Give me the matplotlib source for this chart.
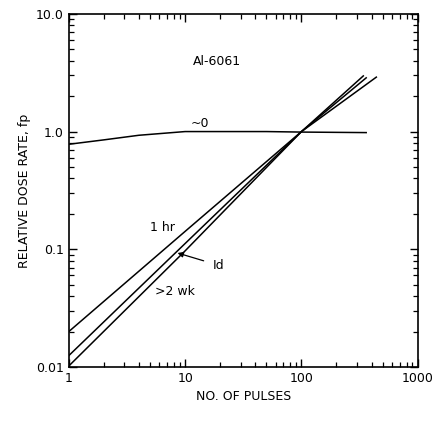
import matplotlib
matplotlib.use("Agg")
import matplotlib.pyplot as plt
from matplotlib.ticker import FixedLocator, LogLocator, NullFormatter

# curva ~0
x_0 = [1, 2, 4, 10, 20, 50, 100, 360]
y_0 = [0.78, 0.85, 0.93, 1.0, 1.0, 1.0, 0.99, 0.98]

# 1 hr
x_1hr = [1, 10, 100, 440]
y_1hr = [0.020, 0.142, 1.0, 2.9]

# 1 d
x_1d = [1, 10, 100, 360]
y_1d = [0.0125, 0.112, 1.0, 2.86]

# >2 wk
x_2wk = [1, 10, 100, 340]
y_2wk = [0.0102, 0.097, 1.0, 2.97]

xticks = [1, 10, 100, 1000]
xticklabels = ["1", "10", "100", "1000"]
yticks = [0.01, 0.1, 1.0, 10.0]
yticklabels = ["0.01", "0.1", "1.0", "10.0"]

fig = plt.figure(figsize=(4.44, 4.26), dpi=100)
ax = fig.add_axes([0.155, 0.1385, 0.786, 0.829])

for x, y in [(x_0, y_0), (x_1hr, y_1hr), (x_1d, y_1d), (x_2wk, y_2wk)]:
    ax.plot(x, y, color="black", linewidth=1.1)

ax.set_xscale("log")
ax.set_yscale("log")
ax.set_xlim(1, 1000)
ax.set_ylim(0.01, 10)

ax.xaxis.set_major_locator(FixedLocator(xticks))
ax.set_xticklabels(xticklabels)
ax.yaxis.set_major_locator(FixedLocator(yticks))
ax.set_yticklabels(yticklabels)
ax.xaxis.set_minor_locator(LogLocator(base=10, subs=range(2, 10)))
ax.yaxis.set_minor_locator(LogLocator(base=10, subs=range(2, 10)))
ax.xaxis.set_minor_formatter(NullFormatter())
ax.yaxis.set_minor_formatter(NullFormatter())

ax.tick_params(which="both", direction="in", top=True, right=True, labelsize=9)
ax.tick_params(which="major", length=6, width=1)
ax.tick_params(which="minor", length=3.5, width=0.9)
for s in ax.spines.values():
    s.set_linewidth(1.2)

ax.set_xlabel("NO. OF PULSES", fontsize=9)
ax.set_ylabel("RELATIVE DOSE RATE, fp", fontsize=9)

ax.text(18.7, 3.9, "Al-6061", fontsize=9, ha="center", va="center")
ax.text(13.4, 1.16, "~0", fontsize=9, ha="center", va="center")
ax.text(6.4, 0.152, "1 hr", fontsize=9, ha="center", va="center")
ax.text(8.1, 0.044, ">2 wk", fontsize=9, ha="center", va="center")
ax.annotate("Id", xy=(8.6, 0.093), xytext=(19.5, 0.073), fontsize=9,
            ha="center", va="center",
            arrowprops=dict(arrowstyle="-|>", color="black", lw=0.9,
                            shrinkA=5, shrinkB=0, mutation_scale=8))

fig.savefig("out.png", dpi=100)
